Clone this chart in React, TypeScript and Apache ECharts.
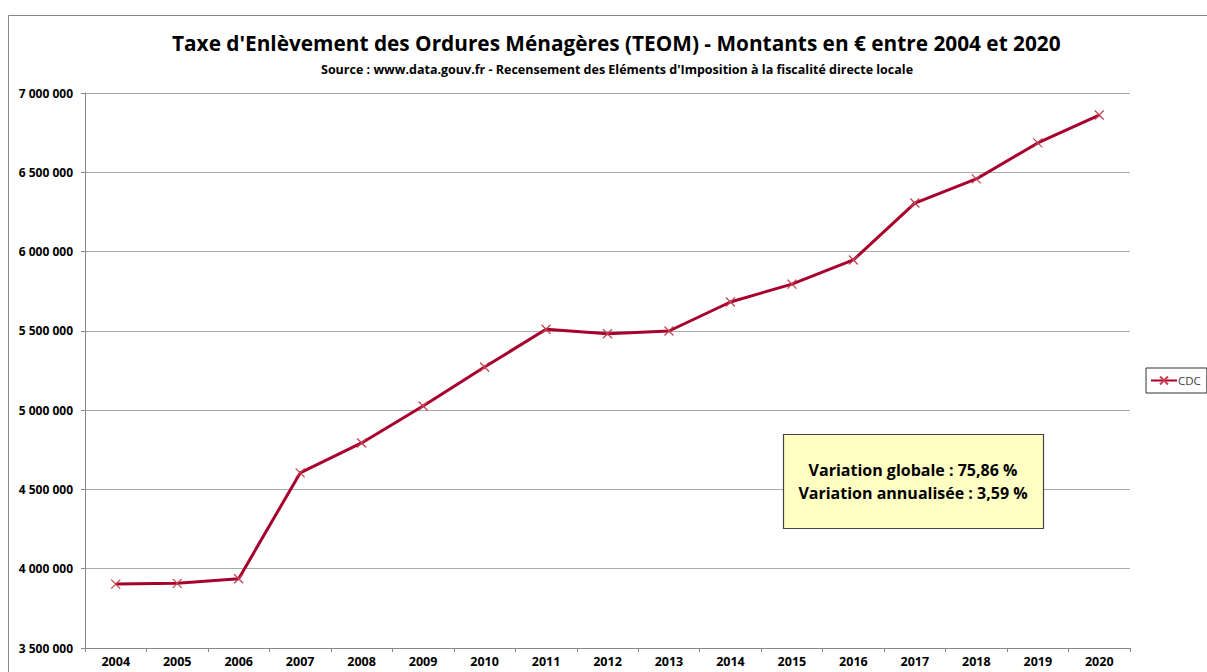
import React, { useEffect, useRef } from "react";
import * as echarts from "echarts";

const years = ["2004","2005","2006","2007","2008","2009","2010","2011","2012","2013","2014","2015","2016","2017","2018","2019","2020"];
const cdcValues = [3903000, 3908000, 3937000, 4604000, 4793000, 5026000, 5272000, 5510000, 5482000, 5499000, 5682000, 5795000, 5947000, 6306000, 6458000, 6685000, 6861000];
const titleText = "Taxe d'Enlèvement des Ordures Ménagères (TEOM) - Montants en € entre 2004 et 2020";
const subtitleText = "Source : www.data.gouv.fr - Recensement des Eléments d'Imposition à la fiscalité directe locale";
const noteLines = ["Variation globale : 75,86 %", "Variation annualisée : 3,59 %"];
const seriesName = "CDC";

const FONT = "'Open Sans', 'Noto Sans', sans-serif";
const LINE_COLOR = "#A8002C";

export default function App() {
  const ref = useRef<HTMLDivElement>(null);
  useEffect(() => {
    document.body.style.margin = "0";
    const chart = echarts.init(ref.current!, null, { renderer: "svg" });
    chart.setOption({
      animation: false,
      backgroundColor: "#ffffff",
      textStyle: { fontFamily: FONT },
      title: [
        {
          text: titleText,
          left: 167,
          top: 27,
          textStyle: { fontFamily: FONT, fontSize: 20.8, fontWeight: "bold", color: "#000" },
        },
        {
          text: subtitleText,
          left: 316,
          top: 58,
          textStyle: { fontFamily: FONT, fontSize: 12.5, fontWeight: "bold", color: "#000" },
        },
      ],
      legend: {
        show: true,
        left: 1146,
        top: 368,
        orient: "vertical",
        borderColor: "#333",
        borderWidth: 1,
        borderRadius: 0,
        padding: [6, 6, 6, 4],
        itemWidth: 26,
        itemHeight: 10,
        itemGap: 0,
        textStyle: { fontFamily: FONT, fontSize: 11.5, color: "#404040", padding: [0, 0, 0, -4] },
        data: [seriesName],
      },
      grid: { left: 85, right: 77, top: 93, bottom: 24, containLabel: false },
      xAxis: {
        type: "category",
        data: years,
        boundaryGap: true,
        axisLine: { lineStyle: { color: "#888", width: 1 } },
        axisTick: { show: true, alignWithLabel: false, length: 4, lineStyle: { color: "#888" } },
        axisLabel: { fontFamily: FONT, fontSize: 12.5, fontWeight: "bold", color: "#000", margin: 7 },
      },
      yAxis: {
        type: "value",
        min: 3500000,
        max: 7000000,
        interval: 500000,
        axisLine: { show: true, lineStyle: { color: "#888", width: 1 } },
        axisTick: { show: true, length: 4, lineStyle: { color: "#888" } },
        splitLine: { show: true, lineStyle: { color: "#aaa", width: 1 } },
        axisLabel: {
          fontFamily: FONT,
          fontSize: 12,
          fontWeight: "bold",
          color: "#000",
          margin: 12,
          formatter: (v: number) => String(Math.round(v)).replace(/\B(?=(\d{3})+(?!\d))/g, " "),
        },
      },
      series: [
        {
          name: seriesName,
          type: "line",
          data: cdcValues,
          lineStyle: { color: LINE_COLOR, width: 3 },
          itemStyle: { color: "none", borderColor: "#C2404F", borderWidth: 1.2 },
          symbol: "path://M0,0L10,10M10,0L0,10",
          symbolSize: 9,
          showSymbol: true,
          z: 3,
        },
      ],
      graphic: [
        {
          type: "rect",
          silent: true,
          shape: { x: 8.5, y: 15.5, width: 1400, height: 800 },
          style: { fill: "none", stroke: "#888", lineWidth: 1 },
          z: -1,
        },
        {
          type: "rect",
          shape: { x: 783.5, y: 434.5, width: 260, height: 94 },
          style: { fill: "#FFFFC4", stroke: "#444", lineWidth: 1.2 },
          z: 10,
        },
        {
          type: "text",
          x: 913,
          y: 470,
          style: {
            text: noteLines[0],
            fontFamily: FONT,
            fontSize: 16,
            fontWeight: "bold",
            fill: "#000",
            align: "center",
            verticalAlign: "middle",
          },
          z: 11,
        },
        {
          type: "text",
          x: 913,
          y: 493,
          style: {
            text: noteLines[1],
            fontFamily: FONT,
            fontSize: 16,
            fontWeight: "bold",
            fill: "#000",
            align: "center",
            verticalAlign: "middle",
          },
          z: 11,
        },
      ],
    });
    return () => chart.dispose();
  }, []);
  return (
    <div
      ref={ref}
      style={{ position: "absolute", left: 0, top: 0, width: 1207, height: 672 }}
    />
  );
}
